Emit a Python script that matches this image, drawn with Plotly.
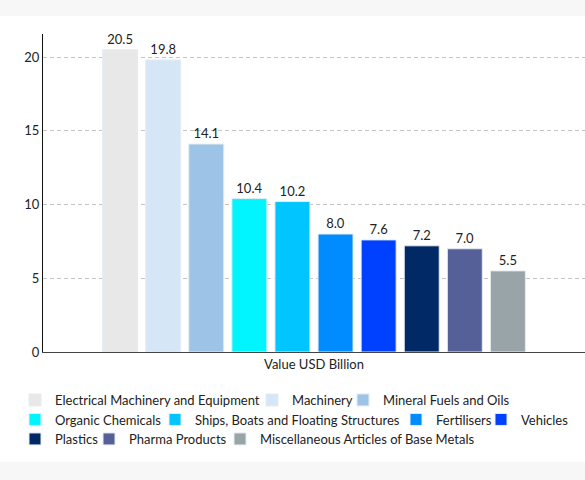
import plotly.graph_objects as go

# Export values by product group
categories = [
    "Electrical Machinery and Equipment",
    "Machinery",
    "Mineral Fuels and Oils",
    "Organic Chemicals",
    "Ships, Boats and Floating Structures",
    "Fertilisers",
    "Vehicles",
    "Plastics",
    "Pharma Products",
    "Miscellaneous Articles of Base Metals",
]
values = [20.5, 19.8, 14.1, 10.4, 10.2, 8.0, 7.6, 7.2, 7.0, 5.5]
colors = [
    "#e8e8e8", "#d5e6f7", "#9dc3e6", "#00f5ff", "#00c5ff",
    "#008cff", "#0040ff", "#002966", "#556098", "#98a4a8",
]
x_label = "Value USD Billion"
y_ticks = [0, 5, 10, 15, 20]

W, H = 585, 480
ML, MR, MT, MB = 43, 0, 34, 128
plot_w = W - ML - MR
plot_h = H - MT - MB

# legend entries flow in 3 rows like the reference; each entry gets its own
# legend box (left edge px, row centre px)
legend_px = [
    (15, 400), (252, 400), (343, 400),
    (15, 419.5), (155, 419.5), (396, 419.5), (481, 419.5),
    (15, 439), (89, 439), (220, 439),
]

fig = go.Figure()
legend_layout = {}
for i, (name, val, col) in enumerate(zip(categories, values, colors)):
    lid = "legend" if i == 0 else f"legend{i + 1}"
    fig.add_trace(go.Bar(
        x=[x_label],
        y=[val],
        name=name,
        legend=lid,
        marker=dict(color=col, line=dict(color="#e6ecf2", width=1)),
        text=[f"{val:.1f}"],
        textposition="outside",
        textfont=dict(size=13, color="#222222"),
        cliponaxis=False,
    ))
    lx, ly = legend_px[i]
    legend_layout[lid] = dict(
        orientation="h",
        x=(lx - ML) / plot_w, xanchor="left",
        y=(H - MB - ly) / plot_h, yanchor="middle",
        font=dict(size=13, color="#222222"),
        bgcolor="rgba(0,0,0,0)",
        itemwidth=30,
    )

# white card behind the chart on a grey page
fig.add_shape(
    type="rect", xref="paper", yref="paper",
    x0=-0.1, x1=1.05,
    y0=(H - MB - 462) / plot_h, y1=(H - MB - 16) / plot_h,
    fillcolor="white", line=dict(width=0), layer="below",
)

fig.update_layout(
    width=W,
    height=H,
    margin=dict(l=ML, r=MR, t=MT, b=MB, autoexpand=False),
    paper_bgcolor="#f7f7f7",
    plot_bgcolor="white",
    font=dict(family="Lato", size=13, color="#222222"),
    barmode="group",
    bargap=0.205,
    bargroupgap=0.188,
    showlegend=True,
    xaxis=dict(
        showline=True, linecolor="#444444", linewidth=1,
        ticks="", tickfont=dict(size=13),
    ),
    yaxis=dict(
        range=[0, 21.56],
        tickvals=y_ticks,
        showline=True, linecolor="#111111", linewidth=1,
        showgrid=True, gridcolor="#c4c4c4", griddash="4px,3px", gridwidth=1,
        zeroline=False,
        ticks="", tickfont=dict(size=13),
    ),
    **legend_layout,
)

# drop the default 8px body margin so the figure sits flush in the window
fig.write_html(
    "out.html",
    config={"displayModeBar": False},
    post_script="document.body.style.margin='0px';",
)
